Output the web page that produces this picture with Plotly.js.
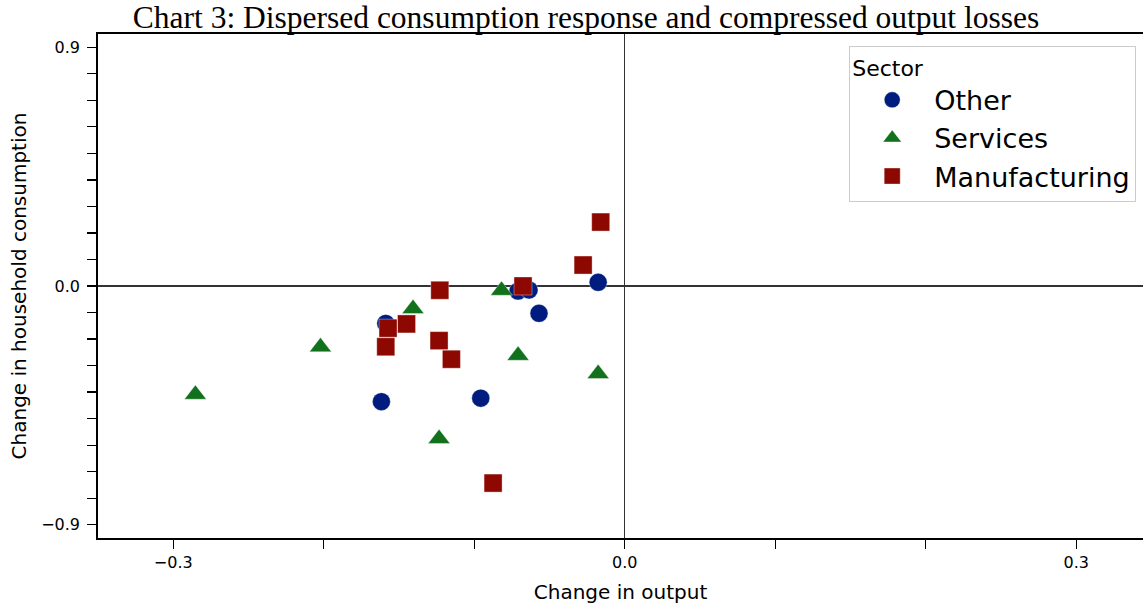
<!DOCTYPE html>
<html>
<head>
<meta charset="utf-8">
<script src="https://cdn.plot.ly/plotly-3.0.1.min.js"></script>
<style>html,body{margin:0;padding:0;background:#fff;}#chart{width:1143px;height:607px;}</style>
</head>
<body>
<div id="chart"></div>
<script>
const sectors = ["Other", "Services", "Manufacturing"];
const otherX = [-0.0177, -0.0709, -0.0636, -0.0570, -0.1588, -0.1617, -0.0957];
const otherY = [0.014, -0.019, -0.015, -0.103, -0.141, -0.436, -0.423];
const servicesX = [-0.0819, -0.1407, -0.0709, -0.0177, -0.1234, -0.2022, -0.2853];
const servicesY = [-0.017, -0.086, -0.262, -0.331, -0.576, -0.230, -0.409];
const manufX = [-0.0160, -0.0277, -0.0676, -0.1229, -0.1450, -0.1573, -0.1588, -0.1234, -0.1152, -0.0875];
const manufY = [0.241, 0.079, 0.000, -0.016, -0.143, -0.159, -0.229, -0.206, -0.276, -0.743];
const xTicks = [-0.3, 0.0, 0.3];
const xTickText = ["\u22120.3", "0.0", "0.3"];
const yTicks = [-0.9, 0.0, 0.9];
const yTickText = ["\u22120.9", "0.0", "0.9"];

const colors = ["#001c7f", "#12711c", "#8c0800"];
const symbols = ["circle", "triangle-up", "square"];
const sizes = [18, 19, 18];
const xs = [otherX, servicesX, manufX];
const ys = [otherY, servicesY, manufY];

const traces = sectors.map((name, i) => ({
  type: "scatter",
  mode: "markers",
  name: name,
  x: xs[i],
  y: ys[i],
  marker: {color: colors[i], symbol: symbols[i], size: sizes[i], line: {color: "rgba(255,255,255,0.6)", width: 0.6}},
  hoverinfo: "x+y+name"
}));

const tickFont = {family: "DejaVu Sans", size: 16, color: "#000"};
const layout = {
  width: 1143,
  height: 607,
  paper_bgcolor: "#fff",
  plot_bgcolor: "#fff",
  margin: {l: 98, r: 0, t: 34, b: 69},
  title: {
    text: "Chart 3: Dispersed consumption response and compressed output losses",
    font: {family: "Liberation Serif", size: 31.5, color: "#000"},
    x: 586 / 1143, xref: "container", xanchor: "center",
    y: 1 - 17 / 607, yref: "container", yanchor: "middle"
  },
  xaxis: {
    range: [-0.35, 0.3443],
    tickvals: xTicks, ticktext: xTickText,
    ticks: "outside", ticklen: 9, tickwidth: 1.3, tickcolor: "#000",
    minor: {dtick: 0.1, tick0: 0, ticks: "outside", ticklen: 9, tickwidth: 1.3, tickcolor: "#000", showgrid: false},
    showgrid: false,
    zeroline: true, zerolinecolor: "#333", zerolinewidth: 1.2,
    showline: true, linecolor: "#000", linewidth: 1.8, mirror: true,
    tickfont: tickFont,
    title: {text: "Change in output", font: {family: "DejaVu Sans", size: 20, color: "#000"}, standoff: 14},
    automargin: false, fixedrange: true
  },
  yaxis: {
    range: [-0.95, 0.95],
    tickvals: yTicks, ticktext: yTickText,
    ticks: "outside", ticklen: 9, tickwidth: 1.3, tickcolor: "#000",
    minor: {dtick: 0.1, tick0: 0, ticks: "outside", ticklen: 9, tickwidth: 1.3, tickcolor: "#000", showgrid: false},
    showgrid: false,
    zeroline: true, zerolinecolor: "#333", zerolinewidth: 1.2,
    showline: true, linecolor: "#000", linewidth: 1.8, mirror: false,
    tickfont: tickFont,
    ticklabelstandoff: 4,
    title: {text: "Change in household consumption", font: {family: "DejaVu Sans", size: 20, color: "#000"}, standoff: 9},
    automargin: false, fixedrange: true
  },
  showlegend: true,
  legend: {
    x: (849 - 98) / 1045, xanchor: "left",
    y: (538 - 46) / 504, yanchor: "top",
    bgcolor: "rgba(255,255,255,0.8)",
    bordercolor: "#cccccc", borderwidth: 1.2,
    font: {family: "DejaVu Sans", size: 27, color: "#000"},
    title: {text: "Sector", font: {family: "DejaVu Sans", size: 22, color: "#000"}},
    itemwidth: 74,
    tracegroupgap: 0
  }
};

Plotly.newPlot("chart", traces, layout, {displayModeBar: false, staticPlot: true});
</script>
</body>
</html>
